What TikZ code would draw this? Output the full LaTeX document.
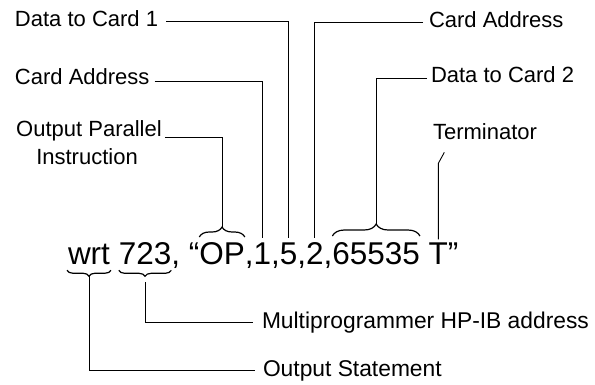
\documentclass[tikz,border=0pt]{standalone}
\usepackage{fontspec}
\setmainfont{Liberation Sans}
\usetikzlibrary{decorations.pathreplacing,calc}
\newlength\tokgap
\setlength\tokgap{8.76pt}
\begin{document}
\begin{tikzpicture}[x=1pt,y=-1pt,
  tok/.style={anchor=base west,inner sep=0pt,outer sep=0pt,font=\fontsize{31.5}{36}\selectfont},
  lab/.style={inner sep=0pt,outer sep=0pt,font=\fontsize{22}{26}\selectfont},
  labb/.style={inner sep=0pt,outer sep=0pt,font=\fontsize{22.8}{27}\selectfont},
  conn/.style={draw=black,line width=0.9pt},
  brc/.style={draw=black,line width=1.2pt,decorate,decoration={brace,amplitude=#1}},
]
\useasboundingbox (0,0) rectangle (595,385);
% main statement
\node[tok] (wrt) at (68,265) {wrt};
\node[tok] (n723) at ([xshift=\tokgap]wrt.base east) {723};
\node[tok] (cq) at (n723.base east) {, ``};
\node[tok] (OP) at (cq.base east) {OP};
\node[tok] (c2) at (OP.base east) {,};
\node[tok] (one) at (c2.base east) {1};
\node[tok] (c3) at (one.base east) {,};
\node[tok] (five) at (c3.base east) {5};
\node[tok] (c4) at (five.base east) {,};
\node[tok] (two) at (c4.base east) {2};
\node[tok] (c5) at (two.base east) {,};
\node[tok] (num) at (c5.base east) {65535};
\node[tok] (T) at ([xshift=\tokgap]num.base east) {T};
\node[tok] (q2) at (T.base east) {''};
% braces
\draw[brc=10pt] ([yshift=6pt]OP.north west) -- ([yshift=6pt]OP.north east);
\coordinate (OPtip) at ([yshift=16pt]OP.north);
\draw[brc=12pt] ([yshift=7pt]num.north west) -- ([yshift=7pt]num.north east);
\coordinate (numtip) at ([yshift=19pt]num.north);
\draw[brc=6pt] ([xshift=1pt,yshift=-5pt]wrt.south east) -- ([xshift=-1pt,yshift=-5pt]wrt.south west);
\coordinate (wrttip) at ([yshift=-11pt]wrt.south);
\draw[brc=6pt] ([yshift=-5pt]n723.south east) -- ([yshift=-5pt]n723.south west);
\coordinate (n723tip) at ([yshift=-11pt]n723.south);
% labels
\node[lab,anchor=base west] (d1) at (15,27) {Data to Card 1};
\node[lab,anchor=base west] (ca1) at (15,85) {Card Address};
\node[lab,anchor=base] (op1) at (89,137) {Output Parallel};
\node[lab,anchor=base] (op2) at (87,165) {Instruction};
\node[lab,anchor=base west] (ca2) at (429,28) {Card Address};
\node[lab,anchor=base west] (d2) at (431,83) {Data to Card 2};
\node[lab,anchor=base west] (term) at (433,140) {Terminator};
\node[labb,anchor=base west] (mp) at (262,328) {Multiprogrammer HP-IB address};
\node[labb,anchor=base west] (os) at (263,376) {Output Statement};
% connectors
\draw[conn] ([xshift=8pt,yshift=6pt]d1.base east) -| ([yshift=5pt]five.north);
\draw[conn] ([xshift=5pt,yshift=4pt]ca1.base east) -| ([yshift=5pt]one.north);
\draw[conn] ([xshift=3pt,yshift=0pt]op1.base east) -| (OPtip);
\draw[conn] ([xshift=-6pt,yshift=6pt]ca2.base west) -| ([yshift=5pt]two.north);
\draw[conn] ([xshift=-4pt,yshift=5pt]d2.base west) -| (numtip);
\coordinate (Ttop) at ([yshift=4pt]T.north);
\coordinate (tkink) at ([yshift=76pt]Ttop);
\coordinate (tend) at ([xshift=6pt,yshift=11pt]tkink);
\draw[conn] (tend) -- (tkink) -- (Ttop);
\draw[conn] (wrttip) |- ([xshift=-8pt,yshift=6pt]os.base west);
\draw[conn] ([yshift=-6pt]n723tip) |- ([xshift=-9pt,yshift=6pt]mp.base west);
\end{tikzpicture}
\end{document}
